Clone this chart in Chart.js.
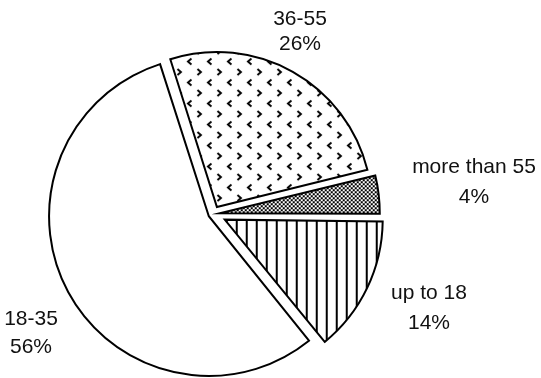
<!DOCTYPE html>
<html>
<head>
<meta charset="utf-8">
<script src="https://cdn.jsdelivr.net/npm/chart.js@4.4.1/dist/chart.umd.min.js"></script>
<style>
  html, body { margin: 0; padding: 0; background: #fff; }
  #wrap { width: 541px; height: 378px; }
</style>
</head>
<body>
<div id="wrap"><canvas id="ageChart" width="541" height="378"></canvas></div>
<script>
// age groups, clockwise from the top
const categories = ['36-55', 'more than 55', 'up to 18', '18-35'];
const shares = [26, 4, 14, 56];

// how far each slice is pulled out of the pie
const explode = [32, 27, 52, 19];

// label placement, offset from the pie centre: [dx, first baseline dy, line gap]
const labelPos = [
  [87, -189, 25],
  [261, -41, 30],
  [216, 85, 30],
  [-182, 111, 28]
];

function makePattern(w, h, paint) {
  const c = document.createElement('canvas');
  c.width = w;
  c.height = h;
  const g = c.getContext('2d');
  g.fillStyle = '#fff';
  g.fillRect(0, 0, w, h);
  paint(g);
  return document.getElementById('ageChart').getContext('2d').createPattern(c, 'repeat');
}

// little < and > marks
const chevrons = makePattern(20, 21, g => {
  g.strokeStyle = '#000';
  g.lineWidth = 1.9;
  g.beginPath();
  g.moveTo(7.5, 2.5); g.lineTo(4, 5.5); g.lineTo(7.5, 8.5);
  g.moveTo(13.5, 13); g.lineTo(17, 16); g.lineTo(13.5, 19);
  g.stroke();
});

// fine checker
const checker = makePattern(4, 4, g => {
  g.fillStyle = '#000';
  g.fillRect(0, 0, 2, 2);
  g.fillRect(2, 2, 2, 2);
});

// vertical stripes
const stripes = makePattern(10, 10, g => {
  g.fillStyle = '#000';
  g.fillRect(4, 0, 2, 10);
});

const sliceLabels = {
  id: 'sliceLabels',
  afterDraw(chart) {
    const ctx = chart.ctx;
    const arcs = chart.getDatasetMeta(0).data;
    ctx.save();
    ctx.font = '21px "Liberation Sans", Arial, sans-serif';
    ctx.fillStyle = '#111';
    ctx.textAlign = 'center';
    ctx.textBaseline = 'alphabetic';
    arcs.forEach((arc, i) => {
      const [dx, dy, gap] = labelPos[i];
      ctx.fillText(categories[i], arc.x + dx, arc.y + dy);
      ctx.fillText(shares[i] + '%', arc.x + dx, arc.y + dy + gap);
    });
    ctx.restore();
  }
};

new Chart(document.getElementById('ageChart'), {
  type: 'pie',
  data: {
    labels: categories,
    datasets: [{
      data: shares,
      backgroundColor: [chevrons, checker, stripes, '#fff'],
      borderColor: '#000',
      borderWidth: 2,
      borderJoinStyle: 'miter',
      offset: explode,
      hoverOffset: 0
    }]
  },
  options: {
    responsive: false,
    animation: false,
    rotation: -17.5,
    radius: 155,
    layout: { padding: { left: 0, right: 115, top: 50, bottom: 0 } },
    events: [],
    plugins: {
      legend: { display: false },
      tooltip: { enabled: false }
    }
  },
  plugins: [sliceLabels]
});
</script>
</body>
</html>
